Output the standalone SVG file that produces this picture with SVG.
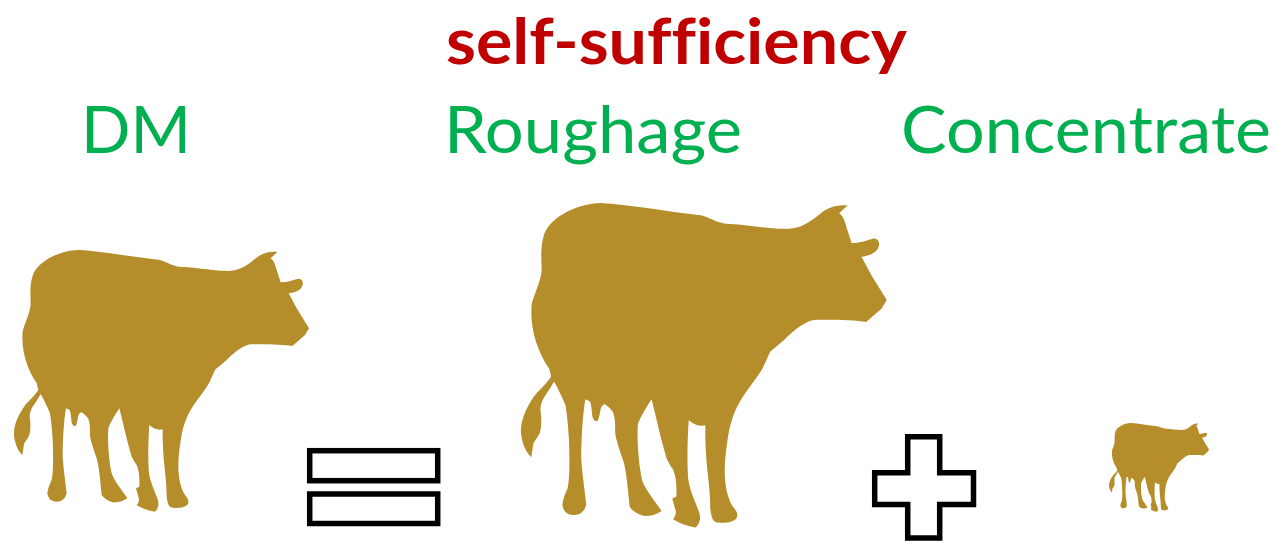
<svg xmlns="http://www.w3.org/2000/svg" width="1276" height="541" viewBox="0 0 1276 541">
<style>
.cow{fill:#B58D2B}
.sym{fill:#fff;stroke:#000;stroke-width:5.5}
.lbl{font-family:Lato,"Open Sans","Liberation Sans",sans-serif;font-size:66px;fill:#00B050;font-variant-ligatures:none}
.ttl{font-family:Lato,"Open Sans","Liberation Sans",sans-serif;font-size:64px;font-weight:700;fill:#C00000;font-variant-ligatures:none}
</style>
<defs>
<path id="cowshape" d="M235,30 C300,33 390,50 480,60 C505,68 520,80 547,81 C590,83 640,92 675,92.5 C715,95 735,80 760,61 C780,42 805,33 832,36 L812,55 C822,62 826,75 830,90 L842,127 C860,128 880,120 895,116 C908,115 910,130 908,134 C906,143 900,148 893,152 C885,157 875,159 866,160 L890,205 L927,265 L915,285 L877,318 C850,313 790,312 750,313 C725,318 700,340 680,360 C665,373 650,385 645,390 C635,410 630,430 612,452 C600,470 585,487 575,505 C560,530 550,555 543,595 C537,635 533,670 536,700 C538,725 545,750 555,765 C563,775 568,782 564,792 C556,803 535,805 520,803 C505,803 503,790 500,770 C500,720 492,680 490,640 C488,610 488,590 488,568 C475,571 460,567 448,555 C444,610 444,670 447,700 C452,730 465,755 472,775 C478,790 476,805 465,815 C445,812 425,805 410,795 C418,785 418,778 415,770 L408,745 L418,740 C419,715 418,695 410,675 C400,660 398,655 395,650 C380,600 372,560 358,505 C345,525 332,545 325,565 C322,600 327,665 335,700 C342,722 365,750 382,775 C368,785 352,788 338,787 C322,782 312,775 305,765 C300,715 297,680 290,655 C280,625 271,600 270,585 C270,565 270,545 263,533 C255,525 250,520 245,517 C238,518 236,525 234,532 C232,545 230,553 227,558 C218,558 215,552 214,540 C213,528 212,518 209,510 L198,505 C192,535 188,600 188,650 C190,685 197,730 200,760 C195,778 185,784 172,785 C155,785 145,778 142,760 C144,745 150,730 155,720 C160,695 160,660 158,600 C156,565 153,540 150,520 C142,500 132,480 122,462 C115,475 105,490 97,502 C90,515 88,525 90,540 C92,555 92,570 88,585 C82,598 75,605 72,612 L67,645 C50,630 40,595 42,575 C44,548 60,515 80,490 C95,475 108,462 115,450 L110,430 C90,400 62,345 68,275 C72,255 88,225 92,195 C92,170 88,140 97,110 C107,70 170,32 235,30 Z"/>
</defs>
<rect width="1276" height="541" fill="#fff"/>
<g id="title"><text class="ttl" x="446" y="64" textLength="461" lengthAdjust="spacingAndGlyphs">self-sufficiency</text></g>
<g id="label-dm"><text class="lbl" x="81" y="153" textLength="110" lengthAdjust="spacingAndGlyphs">DM</text></g>
<g id="label-roughage"><text class="lbl" x="444" y="153" textLength="298" lengthAdjust="spacingAndGlyphs">Roughage</text></g>
<g id="label-concentrate"><text class="lbl" x="901" y="153" textLength="370" lengthAdjust="spacingAndGlyphs">Concentrate</text></g>
<g id="cow-dm"><use href="#cowshape" class="cow" transform="translate(0,240) scale(.33333)"/></g>
<g id="equals">
<rect class="sym" x="309.7" y="450.7" width="128" height="30"/>
<rect class="sym" x="309.7" y="494" width="128" height="29.5"/>
</g>
<g id="cow-roughage"><use href="#cowshape" class="cow" transform="translate(503.6,190.6) scale(.4133)"/></g>
<g id="plus"><path class="sym" d="M907.7,436.7H939.7V472.7H973.5V504.5H939.7V538H907.7V504.5H874.7V472.7H907.7Z"/></g>
<g id="cow-concentrate"><use href="#cowshape" class="cow" transform="translate(1104.3,419.6) scale(.113)"/></g>
<g id="connectors"/>
</svg>
